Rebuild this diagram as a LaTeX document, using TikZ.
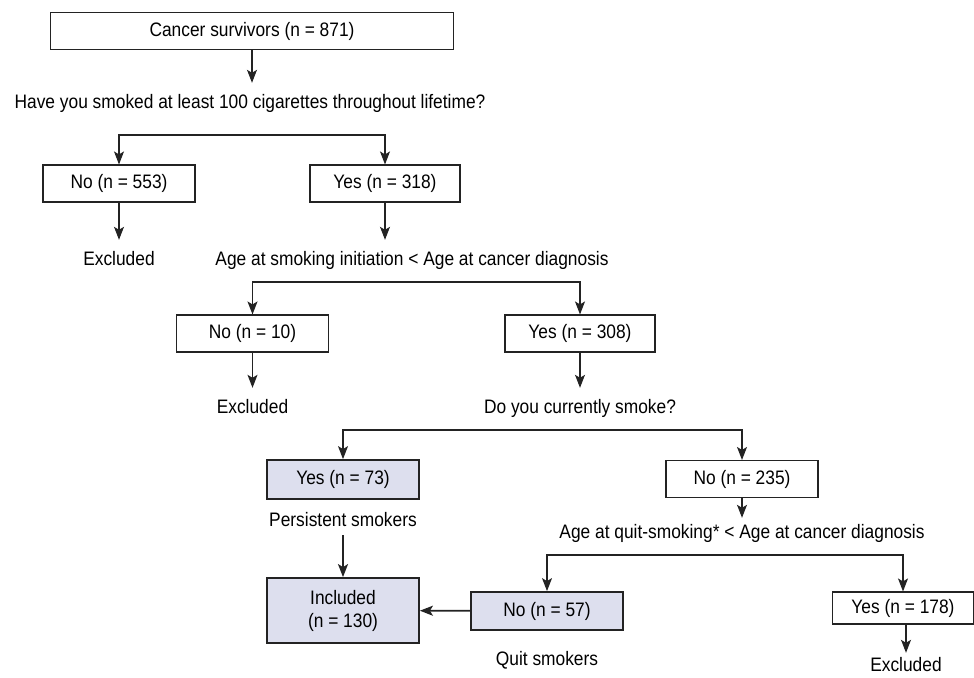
\documentclass[tikz,border=0pt]{standalone}
\usepackage{fontspec}
\setmainfont{Liberation Sans}[FakeStretch=0.89]
\usetikzlibrary{arrows.meta}
\definecolor{boxfill}{RGB}{221,223,238}
\definecolor{linegray}{RGB}{35,35,35}

\tikzset{
  box/.style={draw=linegray, line width=1.1pt, minimum width=152pt, minimum height=37pt, inner sep=0pt},
  selbox/.style={box, fill=boxfill, line width=1.8pt},
  txt/.style={inner xsep=2pt, inner ysep=11pt, text height=14pt, text depth=4pt},
  arr/.style={draw=linegray, line width=1.1pt, -{Stealth[length=13pt,width=10pt,inset=3pt]}},
  thickarr/.style={arr, line width=1.8pt},
}

\begin{document}
\begin{tikzpicture}[x=1pt,y=-1pt,font=\fontsize{19.5}{23}\selectfont]
\useasboundingbox (0,0) rectangle (974,677);
% Partenza
\node[box, minimum width=403pt] (surv) at (252,31) {Cancer survivors (n = 871)};
\node[txt] (q1) at (250,103) {Have you smoked at least 100 cigarettes throughout lifetime?};
\draw[arr] (surv.south) -- (surv.south |- q1.north);
% Primo livello
\coordinate (br1) at (252,135);
\node[box] (no1) at (119,183.5) {No (n = 553)};
\node[box, minimum width=150pt] (yes1) at (385,183.5) {Yes (n = 318)};
\draw[arr] (br1) -| (no1.north);
\draw[arr] (br1) -| (yes1.north);
\node[txt] (exc1) at (119,260) {Excluded};
\draw[arr] (no1) -- (exc1);
\node[txt] (q2) at (412,260) {Age at smoking initiation < Age at cancer diagnosis};
\draw[arr] (yes1.south) -- (yes1.south |- q2.north);
% Secondo livello
\coordinate (br2) at (400,282);
\node[box] (no2) at (252.5,333.5) {No (n = 10)};
\node[box, minimum width=150pt] (yes2) at (580,333.5) {Yes (n = 308)};
\draw[arr] (br2) -| (no2.north);
\draw[arr] (br2) -| (yes2.north);
\node[txt] (exc2) at (252.5,408) {Excluded};
\draw[arr] (no2) -- (exc2);
\node[txt] (q3) at (580,408) {Do you currently smoke?};
\draw[arr] (yes2) -- (q3);
% Terzo livello
\coordinate (br3) at (540,430);
\node[selbox, minimum height=39pt] (yes3) at (343,479.5) {Yes (n = 73)};
\node[box] (no3) at (742,479) {No (n = 235)};
\draw[arr] (br3) -| (yes3.north);
\draw[arr] (br3) -| (no3.north);
\node[txt, inner ysep=5pt] (pers) at (343,521) {Persistent smokers};
\node[selbox, minimum height=65pt, align=center] (incl) at (343,610.5) {Included\\(n = 130)};
\draw[thickarr] (pers) -- (incl);
\node[txt, inner ysep=6pt] (q4) at (742,533) {Age at quit-smoking* < Age at cancer diagnosis};
\draw[arr] (no3) -- (q4);
% Quarto livello
\coordinate (br4) at (726,555);
\node[selbox, minimum height=38pt] (no4) at (547,611) {No (n = 57)};
\node[box, minimum width=141pt, minimum height=32pt] (yes4) at (903,608) {Yes (n = 178)};
\draw[arr] (br4) -| (no4.north);
\draw[arr] (br4) -| (yes4.north);
\draw[thickarr] (no4) -- (incl);
\node[txt, inner ysep=4pt] (quit) at (547,660) {Quit smokers};
\node[txt, inner ysep=4pt] (exc4) at (906,666) {Excluded};
\draw[arr] (yes4.south -| exc4) -- (exc4);
\end{tikzpicture}
\end{document}
